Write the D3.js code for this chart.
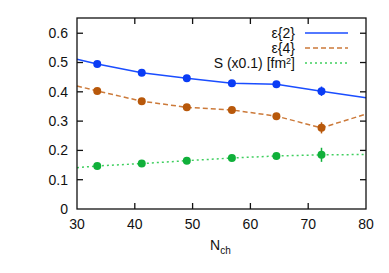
<!DOCTYPE html>
<html>
<head>
<meta charset="utf-8">
<script src="https://cdn.jsdelivr.net/npm/d3@7"></script>
<style>
  body { margin: 0; background: #fff; }
  text { font-family: "Liberation Sans", Arial, sans-serif; fill: #111; }
</style>
</head>
<body>
<div id="chart"></div>
<script>
// data
var nch = [33.5, 41.2, 49.0, 56.8, 64.5, 72.3];
var eps2 = [0.495, 0.465, 0.446, 0.429, 0.426, 0.402];
var eps2Err = [0.004, 0.004, 0.004, 0.004, 0.005, 0.016];
var eps4 = [0.403, 0.368, 0.347, 0.338, 0.317, 0.277];
var eps4Err = [0.005, 0.005, 0.005, 0.006, 0.011, 0.019];
var size = [0.147, 0.155, 0.165, 0.174, 0.181, 0.185];
var sizeErr = [0.004, 0.004, 0.004, 0.004, 0.005, 0.024];
// line ends at the frame edges (x = 30 and x = 80)
var eps2Ends = [0.511, 0.380];
var eps4Ends = [0.420, 0.324];
var sizeEnds = [0.141, 0.186];
var xTicks = [30, 40, 50, 60, 70, 80];
var yTicks = [0, 0.1, 0.2, 0.3, 0.4, 0.5, 0.6];

var width = 389, height = 273;
var margin = {left: 77, right: 23, top: 18, bottom: 64};

var svg = d3.select("#chart").append("svg")
  .attr("width", width)
  .attr("height", height);

var x = d3.scaleLinear().domain([30, 80]).range([margin.left, width - margin.right]);
var y = d3.scaleLinear().domain([0, 0.652]).range([height - margin.bottom, margin.top]);

var series = [
  {name: "ε{2}", vals: eps2, err: eps2Err, ends: eps2Ends, line: "#1a4dff", dot: "#0a3cf5", dash: null},
  {name: "ε{4}", vals: eps4, err: eps4Err, ends: eps4Ends, line: "#cc7a3a", dot: "#b8580a", dash: "5,3"},
  {name: "S (x0.1) [fm²]", vals: size, err: sizeErr, ends: sizeEnds, line: "#3fcf5f", dot: "#10b03a", dash: "2,3"}
];

var line = d3.line()
  .x(function(d) { return x(d[0]); })
  .y(function(d) { return y(d[1]); });

series.forEach(function(s) {
  var pts = [[30, s.ends[0]]];
  nch.forEach(function(n, i) { pts.push([n, s.vals[i]]); });
  pts.push([80, s.ends[1]]);

  svg.append("path")
    .attr("d", line(pts))
    .attr("fill", "none")
    .attr("stroke", s.line)
    .attr("stroke-width", 1.5)
    .attr("stroke-dasharray", s.dash);

  var g = svg.append("g");
  g.selectAll("line.err")
    .data(nch)
    .enter().append("line")
    .attr("x1", function(d) { return x(d); })
    .attr("x2", function(d) { return x(d); })
    .attr("y1", function(d, i) { return y(s.vals[i] - s.err[i]); })
    .attr("y2", function(d, i) { return y(s.vals[i] + s.err[i]); })
    .attr("stroke", s.dot)
    .attr("stroke-width", 1.5);

  g.selectAll("circle")
    .data(nch)
    .enter().append("circle")
    .attr("cx", function(d) { return x(d); })
    .attr("cy", function(d, i) { return y(s.vals[i]); })
    .attr("r", 4)
    .attr("fill", s.dot);
});

// frame
svg.append("rect")
  .attr("x", x(30))
  .attr("y", y(0.652))
  .attr("width", x(80) - x(30))
  .attr("height", y(0) - y(0.652))
  .attr("fill", "none")
  .attr("stroke", "#111")
  .attr("stroke-width", 1.3);

// inward ticks on all sides
var tickLen = 6;
var innerX = xTicks.slice(1, -1);
svg.selectAll("line.xb").data(innerX).enter().append("line")
  .attr("x1", function(d) { return x(d); }).attr("x2", function(d) { return x(d); })
  .attr("y1", y(0)).attr("y2", y(0) - tickLen)
  .attr("stroke", "#111").attr("stroke-width", 1.3);
svg.selectAll("line.xt").data(innerX).enter().append("line")
  .attr("x1", function(d) { return x(d); }).attr("x2", function(d) { return x(d); })
  .attr("y1", y(0.652)).attr("y2", y(0.652) + tickLen)
  .attr("stroke", "#111").attr("stroke-width", 1.3);
var innerY = yTicks.slice(1);
svg.selectAll("line.yl").data(innerY).enter().append("line")
  .attr("y1", function(d) { return y(d); }).attr("y2", function(d) { return y(d); })
  .attr("x1", x(30)).attr("x2", x(30) + tickLen)
  .attr("stroke", "#111").attr("stroke-width", 1.3);
svg.selectAll("line.yr").data(innerY).enter().append("line")
  .attr("y1", function(d) { return y(d); }).attr("y2", function(d) { return y(d); })
  .attr("x1", x(80)).attr("x2", x(80) - tickLen)
  .attr("stroke", "#111").attr("stroke-width", 1.3);

// tick labels
svg.selectAll("text.xl").data(xTicks).enter().append("text")
  .attr("x", function(d) { return x(d); })
  .attr("y", y(0) + 20)
  .attr("text-anchor", "middle")
  .attr("font-size", 14)
  .text(function(d) { return d; });

svg.selectAll("text.yl").data(yTicks).enter().append("text")
  .attr("x", x(30) - 9)
  .attr("y", function(d) { return y(d); })
  .attr("dy", "0.35em")
  .attr("text-anchor", "end")
  .attr("font-size", 14)
  .text(function(d) { return d === 0 ? "0" : d3.format(".1f")(d); });

// axis title
var xt = svg.append("text")
  .attr("x", 210)
  .attr("y", 250)
  .attr("font-size", 14);
xt.append("tspan").text("N");
xt.append("tspan").attr("font-size", 10).attr("dy", 4).text("ch");

// legend
var legY = [33, 48, 63];
series.forEach(function(s, i) {
  var t = svg.append("text")
    .attr("x", 295)
    .attr("y", legY[i])
    .attr("dy", "0.35em")
    .attr("text-anchor", "end")
    .attr("font-size", 14);
  if (i === 2) {
    t.append("tspan").text("S (x0.1) [fm");
    t.append("tspan").attr("font-size", 9).attr("dy", -4).text("2");
    t.append("tspan").attr("dy", 4).text("]");
  } else {
    t.text(s.name);
  }
  svg.append("line")
    .attr("x1", 305).attr("x2", 348)
    .attr("y1", legY[i]).attr("y2", legY[i])
    .attr("stroke", s.line)
    .attr("stroke-width", 1.5)
    .attr("stroke-dasharray", s.dash);
});
</script>
</body>
</html>
